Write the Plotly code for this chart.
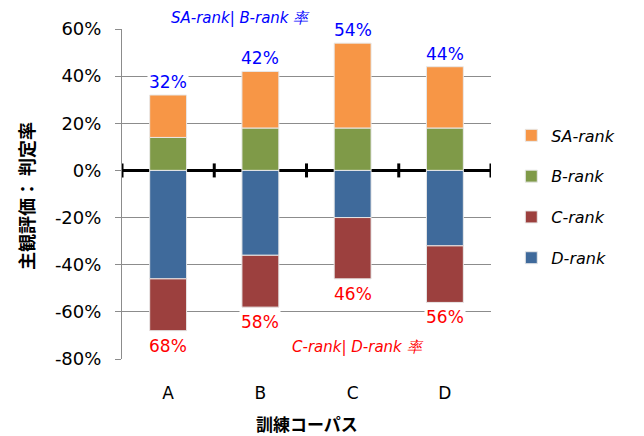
import plotly.graph_objects as go

categories = ["A", "B", "C", "D"]
sa_rank = [18, 24, 36, 26]
b_rank = [14, 18, 18, 18]
c_rank = [-22, -22, -26, -24]
d_rank = [-46, -36, -20, -32]
pos_total = [b + s for b, s in zip(b_rank, sa_rank)]
neg_total = [c + d for c, d in zip(c_rank, d_rank)]
y_ticks = [-80, -60, -40, -20, 0, 20, 40, 60]
y_tick_labels = ["-80%", "-60%", "-40%", "-20%", "0%", "20%", "40%", "60%"]

colors = {"SA": "#F79646", "B": "#7F9A48", "C": "#9C403E", "D": "#3F6A9B"}
xs = list(range(len(categories)))

fig = go.Figure()
common = dict(width=0.4, marker_line=dict(color="#E8E8E8", width=1))
fig.add_trace(go.Bar(x=xs, y=b_rank, name="B-rank", marker_color=colors["B"],
                     legendrank=2, legendgroup="b", **common))
fig.add_trace(go.Bar(x=xs, y=sa_rank, name="SA-rank", marker_color=colors["SA"],
                     legendrank=1, legendgroup="sa", **common))
fig.add_trace(go.Bar(x=xs, y=d_rank, name="D-rank", marker_color=colors["D"],
                     legendrank=4, legendgroup="d", **common))
fig.add_trace(go.Bar(x=xs, y=c_rank, name="C-rank", marker_color=colors["C"],
                     legendrank=3, legendgroup="c", **common))

annotations = []
for x, v in zip(xs, pos_total):
    annotations.append(dict(x=x, y=v, xref="x", yref="y", text=f"{v}%", showarrow=False,
                            yanchor="bottom", yshift=1, bgcolor="white",
                            font=dict(family="DejaVu Sans", size=17, color="#0000FF")))
for x, v in zip(xs, neg_total):
    annotations.append(dict(x=x, y=v, xref="x", yref="y", text=f"{-v}%", showarrow=False,
                            yanchor="top", yshift=-3, bgcolor="white",
                            font=dict(family="DejaVu Sans", size=17, color="#FF0000")))
annotations.append(dict(x=0.322, y=1.0, xref="paper", yref="paper", xanchor="center",
                        yanchor="bottom", yshift=0,
                        text="SA-rank| B-rank 率", showarrow=False,
                        font=dict(family="DejaVu Sans", size=15, color="#0000FF", style="italic")))
annotations.append(dict(x=0.64, y=-75, xref="paper", yref="y", xanchor="center",
                        text="C-rank| D-rank 率", showarrow=False,
                        font=dict(family="DejaVu Sans", size=15, color="#FF0000", style="italic")))
annotations.append(dict(x=-0.26, y=0.494, xref="paper", yref="paper", textangle=-90,
                        xanchor="center", yanchor="middle",
                        text="<b>主観評価： 判定率</b>", showarrow=False,
                        font=dict(family="Noto Sans CJK JP", size=18, color="#000000")))
annotations.append(dict(x=0.5, y=-0.194, xref="paper", yref="paper", xanchor="center",
                        yanchor="middle",
                        text="<b>訓練コーパス</b>", showarrow=False,
                        font=dict(family="Noto Sans CJK JP", size=17, color="#000000")))

# boundary tick marks on the zero line
shapes = []
for b in [-0.5, 0.5, 1.5, 2.5, 3.5]:
    shapes.append(dict(type="line", xref="x", yref="y", ysizemode="pixel", yanchor=0,
                       x0=b, x1=b, y0=-7, y1=7, line=dict(color="black", width=3)))

fig.update_layout(
    barmode="relative",
    width=644, height=436,
    margin=dict(l=122, r=153, t=29, b=77),
    paper_bgcolor="white", plot_bgcolor="white",
    font=dict(family="DejaVu Sans", size=17, color="#000000"),
    xaxis=dict(range=[-0.5, 3.5], tickvals=xs, ticktext=categories, showgrid=False,
               zeroline=False, showline=False, ticks="", ticklabelstandoff=22,
               tickfont=dict(size=17)),
    yaxis=dict(range=[-80, 60], tickvals=y_ticks, ticktext=y_tick_labels, showgrid=True,
               gridcolor="#8C8C8C", gridwidth=1, zeroline=True, zerolinecolor="black",
               zerolinewidth=3, showline=True, linecolor="#8C8C8C", linewidth=1,
               ticks="outside", ticklen=6, tickcolor="#8C8C8C", ticklabelstandoff=10,
               tickfont=dict(size=18)),
    legend=dict(x=1.055, y=0.729, xanchor="left", yanchor="top", tracegroupgap=17,
                font=dict(family="DejaVu Sans", size=16, style="italic"),
                itemwidth=30),
    showlegend=True,
    annotations=annotations,
    shapes=shapes,
)

fig.write_html("out.html")
